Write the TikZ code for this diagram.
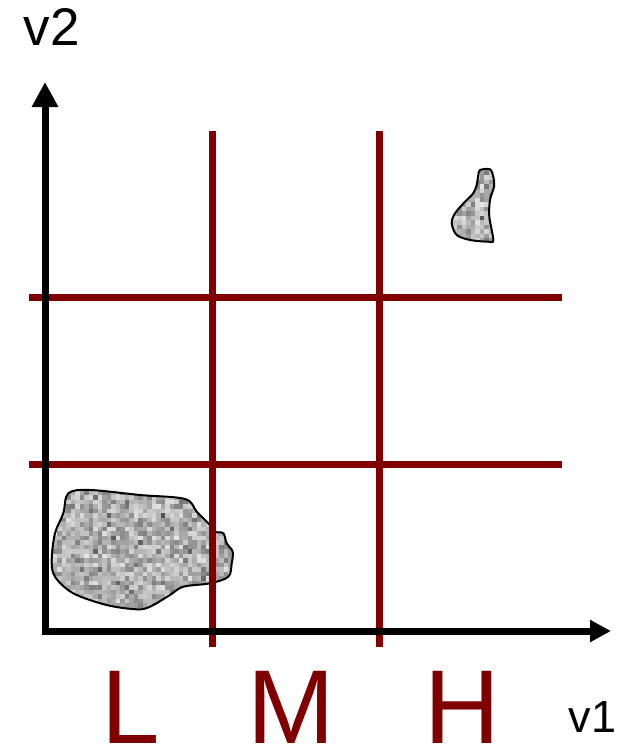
\documentclass[tikz,border=0pt]{standalone}
\usepackage{fontspec}
\setmainfont{Liberation Sans}
\usetikzlibrary{arrows.meta}
\definecolor{darkred}{HTML}{800000}
\tikzset{
  axis/.style={line width=7pt, line join=miter,
    {Triangle[length=25pt,width=25pt]}-{Triangle[length=21pt,width=21pt]}},
  gridline/.style={darkred, line width=7pt},
  axislabel/.style={inner sep=0pt},
  classlabel/.style={inner sep=0pt, anchor=base, text=darkred, font=\fontsize{105}{105}\selectfont},
  outline/.style={black, line width=2pt}
}
\newcommand{\bigblob}{plot[smooth cycle, tension=0.55] coordinates {
 (68.3,493.3) (90,490) (140,495) (185,499) (196.7,511.7) (210,525) (215,531.7)
 (223.3,533.3) (226.7,543.3) (232.7,551.7) (231.7,563.3) (228.3,576.7) (210,583.3)
 (183.3,586.7) (170,595) (150,606.7) (136.7,609.3) (106.7,605) (73.3,593.3)
 (55,576.7) (51.7,560) (55,533.3) (63.3,513.3)}}
\newcommand{\smallblob}{plot[smooth cycle, tension=0.5] coordinates {
 (480,170) (490,169.3) (493.3,176.7) (494,186.7) (490,200) (489.3,216.7)
 (493.3,240) (488.3,241.7) (470,240) (456.7,235) (451.7,223.3) (455,213.3)
 (465,201.7) (473.3,193.3) (476.7,185) (478.3,175)}}
\begin{document}
\begin{tikzpicture}[x=1pt,y=-1pt]
\useasboundingbox (0,0) rectangle (624,752);
% noisy blobs
\pgfmathsetseed{7}
\begin{scope}
  \clip \bigblob;
  \foreach \i in {48,52.5,...,236} {
    \foreach \j in {486,490.5,...,612} {
      \pgfmathsetmacro\g{10+34*rnd+40*rnd*rnd*rnd}
      \fill[black!\g] (\i,\j) rectangle ++(4.7,4.7);
    }
  }
\end{scope}
\begin{scope}
  \clip \smallblob;
  \foreach \i in {448,452.5,...,496} {
    \foreach \j in {166,170.5,...,244} {
      \pgfmathsetmacro\g{10+34*rnd+40*rnd*rnd*rnd}
      \fill[black!\g] (\i,\j) rectangle ++(4.7,4.7);
    }
  }
\end{scope}
\draw[outline] \bigblob;
\draw[outline] \smallblob;
% grid
\draw[gridline] (212.5,131) -- (212.5,647);
\draw[gridline] (379,131) -- (379,647);
\draw[gridline] (29,297.5) -- (562,297.5);
\draw[gridline] (29,464) -- (562,464);
% axes
\draw[axis] (45,82) -- (45,631) -- (611,631);
% labels
\node[axislabel, font=\fontsize{53}{53}\selectfont] (v2) at (51.5,27) {v2};
\node[axislabel, font=\fontsize{45}{45}\selectfont] (v1) at (592.5,717.3) {v1};
\node[classlabel] (L) at (131,743.5) {L};
\node[classlabel] (M) at (291,743.5) {M};
\node[classlabel] (H) at (462.5,743.5) {H};
\end{tikzpicture}
\end{document}
